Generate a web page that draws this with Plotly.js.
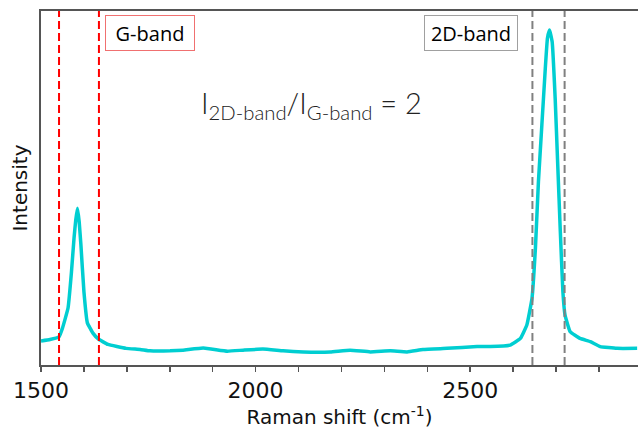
<!DOCTYPE html>
<html>
<head>
<meta charset="utf-8">
<script src="https://cdn.plot.ly/plotly-3.0.1.min.js"></script>
<style>html,body{margin:0;padding:0;background:#fff;}#chart{width:638px;height:429px;}</style>
</head>
<body>
<div id="chart"></div>
<script>
// Raman shift (cm-1) and intensity (arbitrary units)
const ramanShift = [1500,1521,1542,1550,1563,1571,1577,1581,1585,1589,1593,1600,1608,1621,1634,1656,1698,1731,1754,1801,1831,1878,1934,1971,2017,2064,2111,2174,2220,2267,2314,2353,2390,2446,2516,2547,2593,2617,2632,2644,2652,2659,2667,2675,2680,2685,2691,2698,2704,2710,2716,2721,2733,2756,2780,2803,2842,2889];
const intensity  = [68,72,80,104,161,263,359,410,443,404,339,207,119,90,73,58,47,44,40,40,42,48,39,42,45,40,37,37,42,37,40,37,44,47,52,52,56,75,113,188,330,518,678,838,923,946,913,753,565,377,207,141,94,75,66,52,47,47];

// Band windows (dashed lines)
const gBand = [1542, 1635];
const twoDBand = [2645, 2720];

// Labels
const bandLabels = ["G-band", "2D-band"];
const bandLabelX = [1754, 2502];
const ratioText = "I<sub>2D-band</sub>/I<sub>G-band</sub> = 2";
const ratioX = 2130;
const xTickVals = [1500, 2000, 2500];

const shapes = [];
gBand.forEach(x => shapes.push({type:'line', xref:'x', yref:'paper', x0:x, x1:x, y0:0, y1:1,
  line:{color:'#ff0000', width:2, dash:'8px,4px'}}));
twoDBand.forEach(x => shapes.push({type:'line', xref:'x', yref:'paper', x0:x, x1:x, y0:0, y1:1,
  line:{color:'#808080', width:2, dash:'8px,4px'}}));

const annotations = [
  {x:bandLabelX[0], y:0.938, xref:'x', yref:'paper', xanchor:'center', yanchor:'middle', text:bandLabels[0], showarrow:false,
   font:{family:'Open Sans', size:20, color:'#000'}, bordercolor:'#f07070', borderwidth:1, borderpad:4,
   width:80, height:26, bgcolor:'#fff'},
  {x:bandLabelX[1], y:0.938, xref:'x', yref:'paper', xanchor:'center', yanchor:'middle', text:bandLabels[1], showarrow:false,
   font:{family:'Open Sans', size:20, color:'#000'}, bordercolor:'#a0a0a0', borderwidth:1, borderpad:4,
   width:84, height:26, bgcolor:'#fff'},
  {x:ratioX, y:0.735, xref:'x', yref:'paper', xanchor:'center', yanchor:'middle', text:ratioText, showarrow:false,
   font:{family:'Lato', size:29, weight:300, color:'#222'}}
];

const trace = {x:ramanShift, y:intensity, type:'scatter', mode:'lines',
  line:{color:'#00ced1', width:3.5, shape:'spline', smoothing:0.3}, hoverinfo:'skip'};

const layout = {
  width:638, height:429,
  margin:{l:41, r:0, t:11, b:64},
  paper_bgcolor:'#fff', plot_bgcolor:'#fff',
  showlegend:false,
  xaxis:{range:[1500, 2891], tickvals:xTickVals, ticks:'outside', ticklen:5, tickwidth:1.5, tickcolor:'#555',
    showline:true, linecolor:'#555', linewidth:2, mirror:true, showgrid:false, zeroline:false,
    tickfont:{family:'DejaVu Sans', size:22, color:'#111'},
    minor:{dtick:100, tick0:1500, ticks:'outside', ticklen:5, tickwidth:1.5, tickcolor:'#555', showgrid:false},
    title:{text:'Raman shift (cm<sup>-1</sup>)', font:{family:'DejaVu Sans', size:20, color:'#111'}, standoff:10}},
  yaxis:{range:[0, 1000], showticklabels:false, ticks:'', showgrid:false, zeroline:false,
    showline:true, linecolor:'#555', linewidth:2, mirror:false,
    title:{text:'Intensity', font:{family:'DejaVu Sans', size:20, color:'#111'}, standoff:6}},
  shapes:shapes,
  annotations:annotations
};

Plotly.newPlot('chart', [trace], layout, {displayModeBar:false, staticPlot:true});
</script>
</body>
</html>
